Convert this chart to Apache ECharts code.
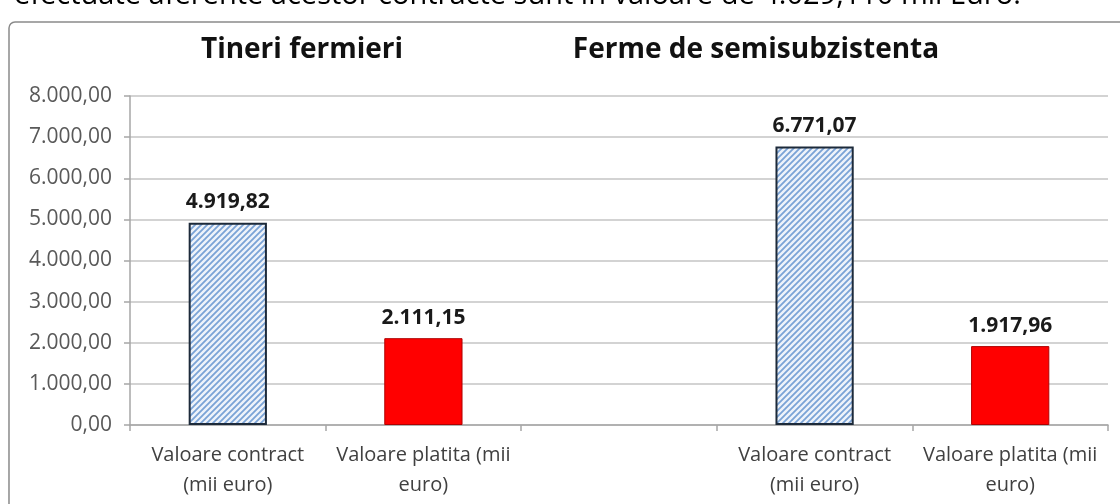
<!DOCTYPE html>
<html>
<head>
<meta charset="utf-8">
<title>Tineri fermieri / Ferme de semisubzistenta</title>
<script src="https://cdn.jsdelivr.net/npm/echarts@6/dist/echarts.min.js"></script>
<style>
  html, body { margin: 0; padding: 0; background: #fff; }
  #chart { width: 1120px; height: 504px; }
</style>
</head>
<body>
<div id="chart"></div>
<script>
  // date
  const categories = ['Valoare contract\n(mii euro)', 'Valoare platita (mii\neuro)', '', 'Valoare contract\n(mii euro)', 'Valoare platita (mii\neuro)']
  const contractValues = [4919.82, null, null, 6771.07, null]
  const paidValues = [null, 2111.15, null, null, 1917.96]
  const yTicks = [0, 1000, 2000, 3000, 4000, 5000, 6000, 7000, 8000]
  const groupTitles = ['Tineri fermieri', 'Ferme de semisubzistenta']
  const noteText = 'efectuate aferente acestor contracte sunt în valoare de 4.029,110 mii Euro.'

  const FONT = '"Open Sans", "Noto Sans", sans-serif'

  // format romanesc: 4.919,82
  function fmt(v) {
    let parts = Number(v).toFixed(2).split('.')
    parts[0] = parts[0].replace(/\B(?=(\d{3})+(?!\d))/g, '.')
    return parts[0] + ',' + parts[1]
  }

  // hasura albastra pentru valoarea contractului
  function hatch() {
    let s = 6
    let c = document.createElement('canvas')
    c.width = s
    c.height = s
    let ctx = c.getContext('2d')
    ctx.fillStyle = '#eef3fa'
    ctx.fillRect(0, 0, s, s)
    ctx.strokeStyle = '#7aa3d6'
    ctx.lineWidth = 1.8
    ctx.beginPath()
    ctx.moveTo(-1, s + 1); ctx.lineTo(s + 1, -1)
    ctx.moveTo(-1, 1); ctx.lineTo(1, -1)
    ctx.moveTo(s - 1, s + 1); ctx.lineTo(s + 1, s - 1)
    ctx.stroke()
    return c
  }

  let myChart = echarts.init(document.getElementById('chart'))

  const labelStyle = {
    show: true,
    position: 'top',
    distance: 10,
    fontFamily: FONT,
    fontWeight: 'bold',
    fontSize: 21,
    color: '#1a1a1a',
    formatter: p => fmt(p.value)
  }

  myChart.setOption({
    backgroundColor: '#fff',
    animation: false,
    graphic: [
      {
        type: 'text', left: 14, top: -19, silent: true,
        style: { text: noteText, fontFamily: FONT, fontSize: 29, fill: '#000' }
      },
      {
        type: 'rect', silent: true,
        shape: { x: 9, y: 22, width: 1120, height: 500, r: 6 },
        style: { fill: 'none', stroke: '#8a8a8a', lineWidth: 1.5 }
      },
      {
        type: 'text', x: 302, y: 50, silent: true,
        style: { text: groupTitles[0], fontFamily: FONT, fontSize: 28, fontWeight: 'bold', fill: '#111', align: 'center', verticalAlign: 'middle' }
      },
      {
        type: 'text', x: 756, y: 50, silent: true,
        style: { text: groupTitles[1], fontFamily: FONT, fontSize: 28, fontWeight: 'bold', fill: '#111', align: 'center', verticalAlign: 'middle' }
      }
    ],
    grid: {
      left: 130,
      right: 12,
      top: 96,
      bottom: 79
    },
    xAxis: {
      type: 'category',
      data: categories,
      axisLine: { lineStyle: { color: '#a6a6a6', width: 1.5 } },
      axisTick: { show: true, length: 6, lineStyle: { color: '#a6a6a6', width: 1.5 } },
      axisLabel: {
        interval: 0,
        margin: 15,
        fontFamily: FONT,
        fontSize: 20,
        lineHeight: 30,
        color: '#404040'
      }
    },
    yAxis: {
      type: 'value',
      min: yTicks[0],
      max: yTicks[yTicks.length - 1],
      interval: yTicks[1] - yTicks[0],
      axisLine: { show: true, lineStyle: { color: '#a6a6a6', width: 1.5 } },
      axisTick: { show: true, length: 6, lineStyle: { color: '#a6a6a6', width: 1.5 } },
      splitLine: { lineStyle: { color: '#c4c4c4', width: 1.5 } },
      axisLabel: {
        margin: 18,
        fontFamily: FONT,
        fontSize: 21,
        color: '#595959',
        formatter: v => fmt(v)
      }
    },
    series: [
      {
        name: 'Valoare contract',
        type: 'bar',
        stack: 'v',
        barWidth: '40%',
        data: contractValues,
        itemStyle: {
          color: { image: hatch(), repeat: 'repeat' },
          borderColor: '#1d2a3a',
          borderWidth: 2
        },
        label: labelStyle
      },
      {
        name: 'Valoare platita',
        type: 'bar',
        stack: 'v',
        barWidth: '40%',
        data: paidValues,
        itemStyle: {
          color: '#ff0000',
          borderColor: '#b00000',
          borderWidth: 1
        },
        label: labelStyle
      }
    ]
  })
</script>
</body>
</html>
